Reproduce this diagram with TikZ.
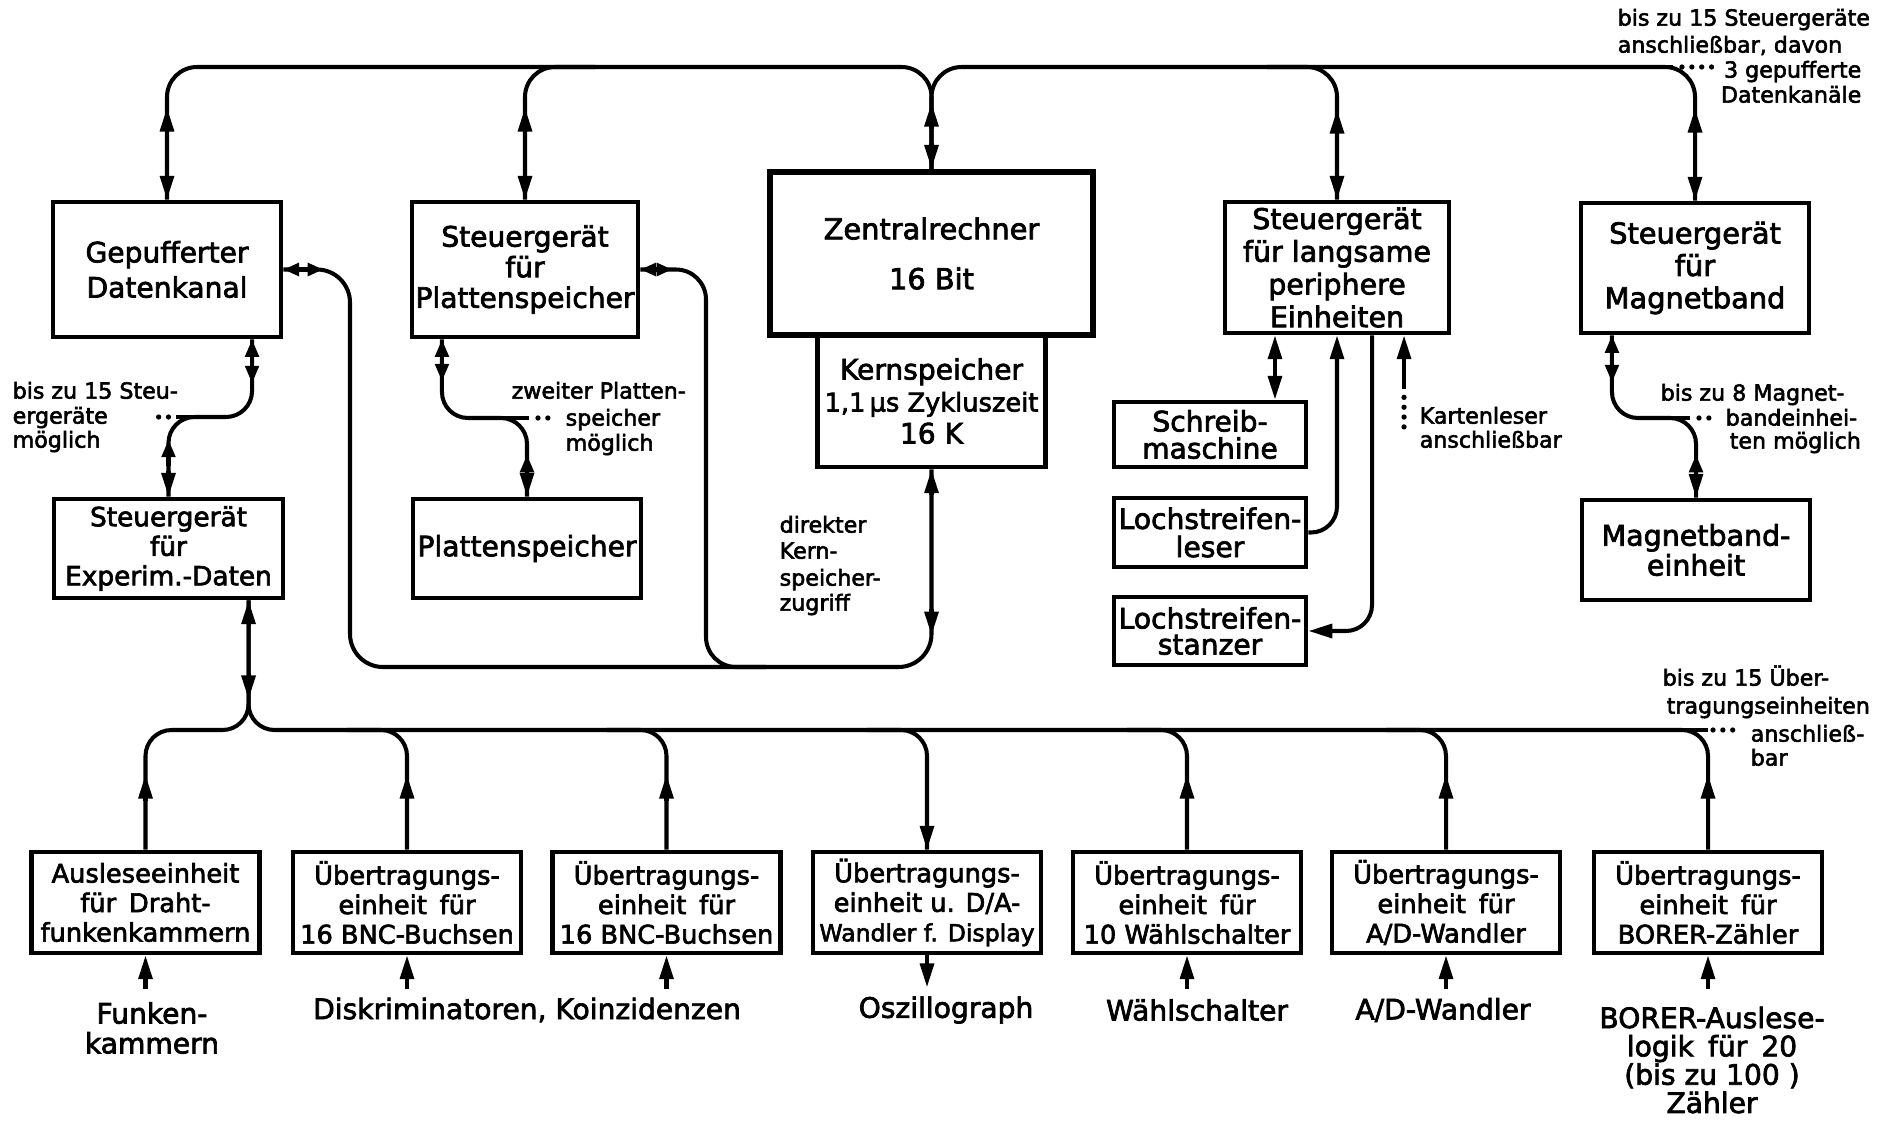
\documentclass[tikz,border=0pt]{standalone}
\usepackage{fontspec}
\setmainfont{DejaVu Sans}[FakeBold=2.5]
\usetikzlibrary{arrows.meta,calc}
\newcommand\tU[4][]{\draw[conn,#1,->] ([xshift=#3,yshift=#4]#2) ++(0,26) -- ++(0,-26);}
\newcommand\tD[4][]{\draw[conn,#1,->] ([xshift=#3,yshift=#4]#2) ++(0,-26) -- ++(0,26);}
\begin{document}
\begin{tikzpicture}[x=0.01cm,y=-0.01cm,
  >={Triangle[length=6.8pt,width=3.9pt]},
  conn/.style={line width=1.15pt},
  rc/.style={conn,rounded corners=0.3cm},
  rcs/.style={conn,rounded corners=0.26cm},
  dotl/.style={line width=1.5pt,line cap=round,dash pattern=on 0pt off 2.8pt},
  blk/.style={draw,line width=1.3pt,inner sep=0pt,align=center},
  bx/.style 2 args={blk,minimum width=#1,minimum height=#2},
  bb/.style={bx={2.28cm}{1.01cm},font={\fontsize{7.3}{8.4}\selectfont}},
  note/.style={inner sep=0pt,font={\fontsize{6.3}{7.4}\selectfont},text height=4.6pt,text depth=1.4pt},
  lab/.style={inner sep=0pt,align=center,font={\fontsize{8}{8.5}\selectfont}},
  stip/.style={>={Triangle[length=4.5pt,width=3.6pt]}},
  shtip/.style={>={Triangle[length=5pt,width=3.8pt]}}
]
\fill[white] (0,0) rectangle (1885,1124);
\useasboundingbox (0,0) rectangle (1885,1124);

% ---------- boxes ----------
\node[bx={2.28cm}{1.35cm},font={\fontsize{8}{10}\selectfont}] (gp) at (167,269.5) {Gepufferter\\Datenkanal};
\node[bx={2.26cm}{1.35cm},font={\fontsize{8}{8.7}\selectfont}] (pc) at (525,269.5) {Steuergerät\\für\\Plattenspeicher};
\node[bx={2.28cm}{1.32cm},font={\fontsize{8}{9.1}\selectfont}] (ks) at (931.5,401) {Kernspeicher\\{\fontsize{7.3}{9.1}\selectfont 1,1\,µs Zykluszeit}\\16 K};
\node[bx={3.23cm}{1.63cm},line width=1.8pt,font={\fontsize{8.2}{14.2}\selectfont}] (zr) at (931.5,253.5) {Zentralrechner\\16 Bit};
\node[bx={2.24cm}{1.31cm},font={\fontsize{8.1}{9.3}\selectfont}] (lg) at (1337,267.5) {Steuergerät\\für langsame\\periphere\\Einheiten};
\node[bx={2.28cm}{1.30cm},font={\fontsize{8.2}{9.2}\selectfont}] (mb) at (1695,268) {Steuergerät\\für\\Magnetband};
\node[bx={2.29cm}{0.99cm},font={\fontsize{7.5}{8.4}\selectfont}] (ex) at (168.5,548.5) {Steuergerät\\für\\Experim.-Daten};
\node[bx={2.28cm}{0.99cm},font={\fontsize{8}{9}\selectfont}] (ps) at (527,548.5) {Plattenspeicher};
\node[bx={1.92cm}{0.65cm},font={\fontsize{8}{7.7}\selectfont}] (sm) at (1210,434.5) {Schreib-\\maschine};
\node[bx={1.92cm}{0.69cm},font={\fontsize{8}{8}\selectfont}] (le) at (1210,532.5) {Lochstreifen-\\leser};
\node[bx={1.92cm}{0.68cm},font={\fontsize{8}{7.4}\selectfont}] (st) at (1210,631) {Lochstreifen-\\stanzer};
\node[bx={2.28cm}{1.00cm},font={\fontsize{8.1}{8.5}\selectfont}] (me) at (1696,550) {Magnetband-\\einheit};

\node[bb] (au) at (145.5,902.5) {Ausleseeinheit\\für\enspace Draht-\\funkenkammern};
\node[bb] (b1) at (407,902.5) {Übertragungs-\\einheit\enspace für\\16 BNC-Buchsen};
\node[bb] (b2) at (666.5,902.5) {Übertragungs-\\einheit\enspace für\\16 BNC-Buchsen};
\node[bb] (da) at (927,902.5) {Übertragungs-\\einheit u. D/A-\\{\fontsize{6.7}{8.4}\selectfont Wandler f. Display}};
\node[bb] (wa) at (1187,902.5) {Übertragungs-\\einheit\enspace für\\10 Wählschalter};
\node[bb] (ad) at (1446,902.5) {Übertragungs-\\einheit\enspace für\\A/D-Wandler};
\node[bb] (bo) at (1708,902.5) {Übertragungs-\\einheit\enspace für\\BORER-Zähler};

% ---------- helper coordinates ----------
\coordinate (tb) at (0,67);
\coordinate (bt) at (0,730);
\coordinate (sl) at (0,417);
\coordinate (sr) at (0,418);
\coordinate (lb) at (0,667);
\coordinate (gx) at (350,0);
\coordinate (px) at (706,0);

% ---------- top bus ----------
\draw[rc] (gp.north) |- (zr.north |- tb) -- (zr.north);
\draw[rc] (zr.north) |- (mb.north |- tb) -- (mb.north);
\draw[rc] (pc.north) |- ($(pc.north |- tb)+(70,0)$);
\draw[rc] (lg.north) |- ($(lg.north |- tb)+(-70,0)$);
\draw[conn] ($(mb.north |- tb)+(-40,0)$) -- ($(mb.north |- tb)+(-22,0)$);
\draw[dotl] ($(mb.north |- tb)+(-13,0)$) -- ($(mb.north |- tb)+(20,0)$);
\tU{gp.north}{0cm}{0.92cm} \tD{gp.north}{0cm}{0cm}
\tU{pc.north}{0cm}{0.92cm} \tD{pc.north}{0cm}{0cm}
\tU{zr.north}{0cm}{0.66cm} \tD{zr.north}{0cm}{0cm}
\tU{lg.north}{0cm}{0.90cm} \tD{lg.north}{0cm}{0cm}
\tU{mb.north}{0cm}{0.92cm} \tD{mb.north}{0cm}{0cm}

% ---------- direct memory access loop ----------
\draw[conn,rounded corners=0.33cm] (gp.east) -| (gx |- lb) -| (ks.south);
\draw[conn,stip,<->] (gp.east) -- ++(40,0);
\draw[rc] (pc.east) -| (px |- lb) -- ++(60,0);
\draw[conn,stip,<->] (pc.east) -- ++(32,0);
\tU{ks.south}{0cm}{0cm} \tD{ks.south}{0cm}{-1.66cm}

% ---------- S-curves ----------
\draw[rcs] ([xshift=0.85cm]gp.south) |- (ex.north |- sl) -- (ex.north);
\draw[conn] ($(ex.north |- sl)+(27,0)$) -- ($(ex.north |- sl)+(7,0)$);
\draw[dotl] ($(ex.north |- sl)+(0,0)$) -- ($(ex.north |- sl)+(-14,0)$);
\tU[shtip]{gp.south}{0.85cm}{0cm} \tD[shtip]{gp.south}{0.85cm}{-0.44cm}
\tU[shtip]{ex.north}{0cm}{0.57cm} \tD{ex.north}{0cm}{0cm}

\draw[rcs] ([xshift=-0.83cm]pc.south) |- (ps.north |- sr) -- (ps.north);
\draw[conn] ($(ps.north |- sr)+(-30,0)$) -- ($(ps.north |- sr)+(2,0)$);
\draw[dotl] ($(ps.north |- sr)+(11,0)$) -- ($(ps.north |- sr)+(23,0)$);
\tU[shtip]{pc.south}{-0.83cm}{0cm} \tD[shtip]{pc.south}{-0.83cm}{-0.42cm}
\tU[shtip]{ps.north}{0cm}{0.42cm} \tD{ps.north}{0cm}{0cm}

\draw[rcs] ([xshift=-0.83cm]mb.south) |- (me.north |- sr) -- (me.north);
\draw[conn] ($(me.north |- sr)+(-30,0)$) -- ($(me.north |- sr)+(-6,0)$);
\draw[dotl] ($(me.north |- sr)+(3,0)$) -- ($(me.north |- sr)+(14,0)$);
\tU[shtip]{mb.south}{-0.83cm}{0cm} \tD[shtip]{mb.south}{-0.83cm}{-0.47cm}
\tU[shtip]{me.north}{0cm}{0.43cm} \tD{me.north}{0cm}{0cm}

% ---------- slow peripherals ----------
\coordinate (lgA) at ([xshift=-0.62cm]lg.south);
\coordinate (lgC) at ([xshift=0.35cm]lg.south);
\coordinate (lgD) at ([xshift=0.67cm]lg.south);
\draw[conn,<->] (lgA) -- (lgA |- sm.north);
\draw[rcs,->] (le.east) -| (lg.south);
\draw[rcs,->] (lgC) |- (st.east);
\draw[conn,->] ([yshift=-0.54cm]lgD) -- (lgD);
\draw[dotl] ([yshift=-0.62cm]lgD) -- ([yshift=-1.0cm]lgD);

% ---------- bottom bus ----------
\draw[rcs] ([xshift=0.8cm]ex.south) |- (au.north |- bt) -- (au.north);
\draw[rcs] ([xshift=0.8cm]ex.south) |- (bo.north |- bt) -- (bo.north);
\foreach \n in {b1,b2,da,wa,ad} {\draw[rcs] (\n.north) |- ($(\n.north |- bt)+(-60,0)$);}
\draw[conn] ($(bo.north |- bt)+(-30,0)$) -- (bo.north |- bt);
\draw[dotl] ($(bo.north |- bt)+(5,0)$) -- ($(bo.north |- bt)+(25.5,0)$);
\tU{ex.south}{0.8cm}{0cm} \tD{ex.south}{0.8cm}{-0.99cm}
\foreach \n in {au,b1,b2,wa,ad,bo} {\tU{\n.north}{0cm}{0.75cm} \draw[conn,->] ([yshift=-0.34cm]\n.south) -- (\n.south);}
\tD{da.north}{0cm}{0cm}
\draw[conn,->] (da.south) -- ([yshift=-0.32cm]da.south);

% ---------- labels below ----------
\node[lab] (l1) at (152,1028) {Funken-\\kammern};
\node[lab] (l2) at (527,1010) {Diskriminatoren, Koinzidenzen};
\node[lab] (l3) at (946,1010) {Oszillograph};
\node[lab] (l4) at (1197,1010) {Wählschalter};
\node[lab] (l5) at (1443,1010) {A/D-Wandler};
\node[lab,font={\fontsize{8}{8.05}\selectfont}] (l6) at (1712,1060) {BORER-Auslese-\\logik\enspace für\enspace 20\\(bis zu 100 )\\Zähler};

% ---------- annotations ----------
\node[note,anchor=west] (t1) at (1617,20) {bis zu 15 Steuergeräte};
\node[note,anchor=west] (t2) at (1617,47) {anschließbar, davon};
\node[note,anchor=east] (t3) at (1862,72) {3 gepufferte};
\node[note,anchor=east] (t4) at (1862,97) {Datenkanäle};
\node[note,anchor=west] (a1) at (12,393) {bis zu 15 Steu-};
\node[note,anchor=west] (a2) at (12,418) {ergeräte};
\node[note,anchor=west] (a3) at (12,442) {möglich};
\node[note,anchor=west] (z1) at (511,393) {zweiter Platten-};
\node[note,anchor=west] (z2) at (565,420) {speicher};
\node[note,anchor=west] (z3) at (565,445) {möglich};
\node[note,anchor=west] (k1) at (1419,418) {Kartenleser};
\node[note,anchor=west] (k2) at (1419,442) {anschließbar};
\node[note,anchor=west] (d1) at (779,527) {direkter};
\node[note,anchor=west] (d2) at (779,553) {Kern-};
\node[note,anchor=west] (d3) at (779,580) {speicher-};
\node[note,anchor=west] (d4) at (779,605) {zugriff};
\node[note,anchor=west] (m1) at (1660,395) {bis zu 8 Magnet-};
\node[note,anchor=west] (m2) at (1725,420) {bandeinhei-};
\node[note,anchor=west] (m3) at (1729,443) {ten möglich};
\node[note,anchor=west] (u1) at (1662,680) {bis zu 15 Über-};
\node[note,anchor=west] (u2) at (1666,708) {tragungseinheiten};
\node[note,anchor=west] (u3) at (1750,736) {anschließ-};
\node[note,anchor=west] (u4) at (1750,760) {bar};
\end{tikzpicture}
\end{document}
